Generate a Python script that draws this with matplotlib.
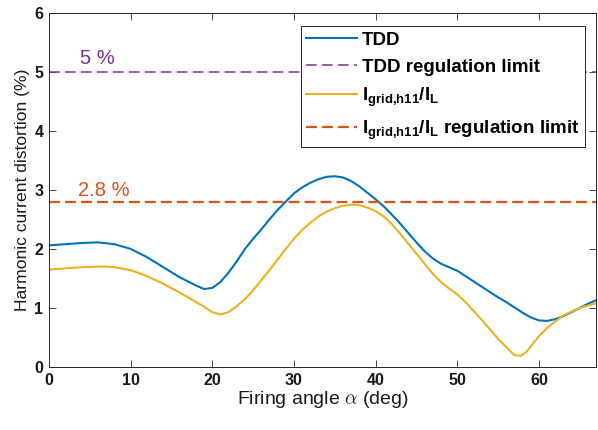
import matplotlib
matplotlib.use("Agg")
import matplotlib.pyplot as plt
from matplotlib.font_manager import FontProperties

plt.rcParams['font.family'] = ['Liberation Sans', 'DejaVu Sans']
plt.rcParams['mathtext.fontset'] = 'custom'
plt.rcParams['mathtext.rm'] = 'Liberation Sans'
plt.rcParams['mathtext.bf'] = 'Liberation Sans:bold'
plt.rcParams['mathtext.it'] = 'Liberation Sans:italic'
plt.rcParams['lines.scale_dashes'] = False

# Data
tdd_x = [0, 2, 4, 6, 8, 10, 12, 14, 16, 18, 19, 20, 21, 22, 23, 24, 25, 26, 27, 28, 29,
         30, 31, 32, 33, 34, 35, 36, 37, 38, 39, 40, 41, 42, 43, 44, 45, 46, 47, 48, 49,
         50, 51, 52, 53, 54, 55, 56, 57, 58, 59, 60, 61, 62, 63, 64, 65, 66, 67]
tdd_y = [2.06, 2.08, 2.10, 2.11, 2.08, 2.00, 1.86, 1.69, 1.52, 1.38, 1.32, 1.34, 1.44,
         1.60, 1.79, 2.00, 2.17, 2.33, 2.50, 2.66, 2.80, 2.94, 3.04, 3.12, 3.18, 3.22,
         3.23, 3.21, 3.15, 3.06, 2.95, 2.84, 2.72, 2.58, 2.43, 2.27, 2.11, 1.96, 1.84,
         1.75, 1.69, 1.63, 1.54, 1.45, 1.36, 1.27, 1.18, 1.10, 1.01, 0.92, 0.84, 0.79,
         0.78, 0.81, 0.86, 0.93, 1.00, 1.07, 1.13]

ih11_x = [0, 2, 4, 6, 7, 8, 10, 12, 14, 16, 18, 19, 20, 21, 22, 23, 24, 25, 26, 27, 28,
          29, 30, 31, 32, 33, 34, 35, 36, 37, 38, 39, 40, 41, 42, 43, 44, 45, 46, 47, 48,
          49, 50, 51, 52, 53, 54, 55, 56, 57, 57.8, 58.5, 59, 60, 61, 62, 63, 64, 65, 66, 67]
ih11_y = [1.65, 1.67, 1.69, 1.70, 1.70, 1.69, 1.64, 1.54, 1.41, 1.26, 1.10, 1.02, 0.93,
          0.89, 0.93, 1.03, 1.15, 1.30, 1.47, 1.64, 1.82, 2.00, 2.17, 2.32, 2.44, 2.55,
          2.63, 2.69, 2.73, 2.75, 2.74, 2.70, 2.64, 2.55, 2.42, 2.26, 2.09, 1.92, 1.75,
          1.58, 1.44, 1.33, 1.23, 1.10, 0.95, 0.80, 0.64, 0.48, 0.34, 0.20, 0.19, 0.26,
          0.35, 0.52, 0.66, 0.77, 0.87, 0.94, 1.00, 1.04, 1.08]

tdd_limit = 5.0
ih11_limit = 2.8
xlim = (0, 67)
ylim = (0, 6)

fig = plt.figure(figsize=(5.98, 4.30), dpi=100)
ax = fig.add_axes([0.082, 0.1465, 0.9147, 0.824])

ax.plot(tdd_x, tdd_y, color='#0072BD', lw=1.5, label='TDD')
ax.axhline(tdd_limit, color='#7E2F8E', lw=1.1, dashes=(7.7, 3.8), label='TDD regulation limit')
ax.plot(ih11_x, ih11_y, color='#EDB120', lw=1.5, label=r'$\mathbf{I_{grid{,}h11}/I_L}$')
ax.axhline(ih11_limit, color='#D95319', lw=1.6, dashes=(7.9, 3.6),
           label=r'$\mathbf{I_{grid{,}h11}/I_L}$ regulation limit')

ax.text(3.8, tdd_limit + 0.07, '5 %', color='#7E2F8E', fontsize=14.5, ha='left', va='bottom')
ax.text(3.6, ih11_limit + 0.03, '2.8 %', color='#D95319', fontsize=14.5, ha='left', va='bottom')

ax.set_xlim(*xlim)
ax.set_ylim(*ylim)
ax.set_xticks(range(0, 61, 10))
ax.set_yticks(range(0, 7))
for lab in ax.get_xticklabels() + ax.get_yticklabels():
    lab.set_fontweight('bold')
    lab.set_fontsize(11.5)
ax.tick_params(direction='in', length=5, width=0.6, colors='#262626', top=True, right=True,
               labelcolor='#1a1a1a', pad=4)
for s in ax.spines.values():
    s.set_color('#262626')
    s.set_linewidth(0.7)

fp = FontProperties(family='Liberation Sans', size=14, math_fontfamily='cm')
ax.set_xlabel(r'Firing angle $\alpha$ (deg)', fontproperties=fp, color='#1a1a1a', labelpad=1)
ax.set_ylabel('Harmonic current distortion (%)', fontsize=12.6, color='#1a1a1a', labelpad=3)

leg = ax.legend(loc='upper right', bbox_to_anchor=(0.9795, 0.962), prop={'weight': 'bold', 'size': 13.5},
                frameon=True, fancybox=False, edgecolor='#262626', framealpha=1,
                handlelength=2.7, handletextpad=0.25, borderpad=0.3, labelspacing=0.52,
                borderaxespad=0)
leg.get_frame().set_linewidth(0.7)

fig.savefig('out.png', dpi=100)
